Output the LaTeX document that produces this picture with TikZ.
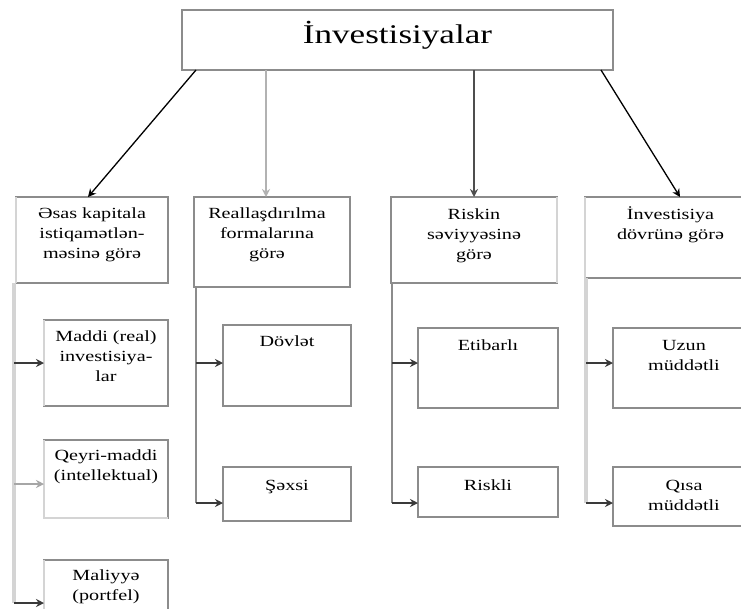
\documentclass[tikz,border=0pt]{standalone}
\usepackage{fontspec}
\setmainfont{Liberation Serif}[FakeStretch=1.3]
\usetikzlibrary{arrows.meta,calc}
\definecolor{boxgray}{HTML}{8C8C8C}
\definecolor{lightedge}{HTML}{D4D4D4}
\definecolor{darkline}{HTML}{3A3A3A}
\begin{document}
\begin{tikzpicture}[x=1pt,y=-1pt,
  box/.style={draw=boxgray,line width=2pt,inner sep=0pt,outer sep=0pt,anchor=north west,fill=white},
  txt/.style={inner sep=0pt,anchor=north,align=center,font=\fontsize{15.5}{20}\selectfont},
  ttl/.style={inner sep=0pt,anchor=base,font=\fontsize{27}{32}\selectfont},
  tip/.style={-{Stealth[length=8pt,width=8pt]}},
  diag/.style={tip,draw=black,line width=1.3pt},
  vert/.style={tip,line width=2pt},
  bus/.style={draw=boxgray,line width=2pt},
  lbus/.style={draw=lightedge,line width=4pt},
  br/.style={tip,draw=darkline,line width=1.5pt},
  ledge/.style={draw=lightedge,line width=2.5pt}
]
\clip (0,0) rectangle (741,608);
\fill[white] (0,0) rectangle (741,608);

% top box
\node[box,minimum width=431pt,minimum height=60pt] (T) at (182,10) {};
\node[ttl] (tt) at ([yshift=-33pt]T.north) {İnvestisiyalar};

% category boxes
\node[box,minimum width=152pt,minimum height=86pt] (B1) at (16,197) {};
\node[box,minimum width=156pt,minimum height=90pt] (B2) at (194,197) {};
\node[box,minimum width=166pt,minimum height=86pt] (B3) at (391,197) {};
\node[box,minimum width=171pt,minimum height=81pt] (B4) at (585,197) {};

\node[txt] (t1) at ([yshift=-11pt]B1.north) {Əsas kapitala\\istiqamətlən-\\məsinə görə};
\node[txt] (t2) at ([xshift=-5pt,yshift=-11pt]B2.north) {Reallaşdırılma\\formalarına\\görə};
\node[txt] (t3) at ([yshift=-12pt]B3.north) {Riskin\\səviyyəsinə\\görə};
\node[txt] (t4) at ([yshift=-10pt]B4.north) {İnvestisiya\\dövrünə görə};

% sub boxes
\node[box,minimum width=124pt,minimum height=86pt] (S1a) at (44,320) {};
\node[box,minimum width=124pt,minimum height=78pt] (S1b) at (44,440) {};
\node[box,minimum width=124pt,minimum height=86pt] (S1c) at (44,560) {};
\node[box,minimum width=128pt,minimum height=81pt] (S2a) at (223,325) {};
\node[box,minimum width=128pt,minimum height=54pt] (S2b) at (223,467) {};
\node[box,minimum width=140pt,minimum height=80pt] (S3a) at (418,328) {};
\node[box,minimum width=140pt,minimum height=50pt] (S3b) at (418,467) {};
\node[box,minimum width=142pt,minimum height=80pt] (S4a) at (613,328) {};
\node[box,minimum width=142pt,minimum height=59pt] (S4b) at (613,467) {};

% light edges
\draw[ledge] (B1.north west) -- (B1.south west);
\draw[ledge] (B3.north east) -- (B3.south east);
\draw[ledge] (B4.north west) -- (B4.south west);
\draw[ledge] (S1a.north west) -- (S1a.south west);
\draw[ledge] (S1b.north west) -- (S1b.south west) -- (S1b.south east);
\draw[ledge] (S1c.north west) -- (S1c.south west);

\node[txt] (u1a) at ([yshift=-11pt]S1a.north) {Maddi (real)\\investisiya-\\lar};
\node[txt] (u1b) at ([yshift=-10pt]S1b.north) {Qeyri-maddi\\(intellektual)};
\node[txt] (u1c) at ([yshift=-10pt]S1c.north) {Maliyyə\\(portfel)};
\node[txt] (u2a) at ([yshift=-11pt]S2a.north) {Dövlət};
\node[txt] (u2b) at ([yshift=-13pt]S2b.north) {Şəxsi};
\node[txt] (u3a) at ([yshift=-12pt]S3a.north) {Etibarlı};
\node[txt] (u3b) at ([yshift=-13pt]S3b.north) {Riskli};
\node[txt] (u4a) at ([yshift=-12pt]S4a.north) {Uzun\\müddətli};
\node[txt] (u4b) at ([yshift=-13pt]S4b.north) {Qısa\\müddətli};

% top connectors
\draw[diag] ([xshift=14pt]T.south west) -- ([xshift=-4pt]B1.north);
\draw[vert,draw=gray!60] ([xshift=84pt]T.south west) -- ([xshift=72pt]B2.north west);
\draw[vert,draw=darkline!90] ([xshift=292pt]T.south west) -- (B3.north);
\draw[diag] ([xshift=-12pt]T.south east) -- ([xshift=95pt]B4.north west);

% buses
\coordinate (bus1) at ([xshift=-2pt]B1.south west);
\coordinate (bus2) at ([xshift=2pt]B2.south west);
\coordinate (bus3) at ([xshift=1pt]B3.south west);
\coordinate (bus4) at ([xshift=1pt]B4.south west);

\coordinate (e1a) at (S1a.west);
\coordinate (e1b) at ([yshift=-5pt]S1b.west);
\coordinate (e1c) at (S1c.west);
\coordinate (e2a) at ([yshift=2.5pt]S2a.west);
\coordinate (e2b) at ([yshift=-9pt]S2b.west);
\coordinate (e3a) at ([yshift=5pt]S3a.west);
\coordinate (e3b) at ([yshift=-11pt]S3b.west);
\coordinate (e4a) at ([yshift=5pt]S4a.west);
\coordinate (e4b) at ([yshift=-6.5pt]S4b.west);

\draw[lbus] (bus1) -- (bus1 |- e1c);
\draw[bus] (bus2) -- (bus2 |- e2b);
\draw[bus] (bus3) -- (bus3 |- e3b);
\draw[lbus] (bus4) -- (bus4 |- e4b);

\draw[br] (bus1 |- e1a) -- (e1a);
\draw[br,draw=gray!70] (bus1 |- e1b) -- (e1b);
\draw[br] (bus1 |- e1c) -- (e1c);
\draw[br] (bus2 |- e2a) -- (e2a);
\draw[br] (bus2 |- e2b) -- (e2b);
\draw[br] (bus3 |- e3a) -- (e3a);
\draw[br] (bus3 |- e3b) -- (e3b);
\draw[br] (bus4 |- e4a) -- (e4a);
\draw[br] (bus4 |- e4b) -- (e4b);
\end{tikzpicture}
\end{document}
